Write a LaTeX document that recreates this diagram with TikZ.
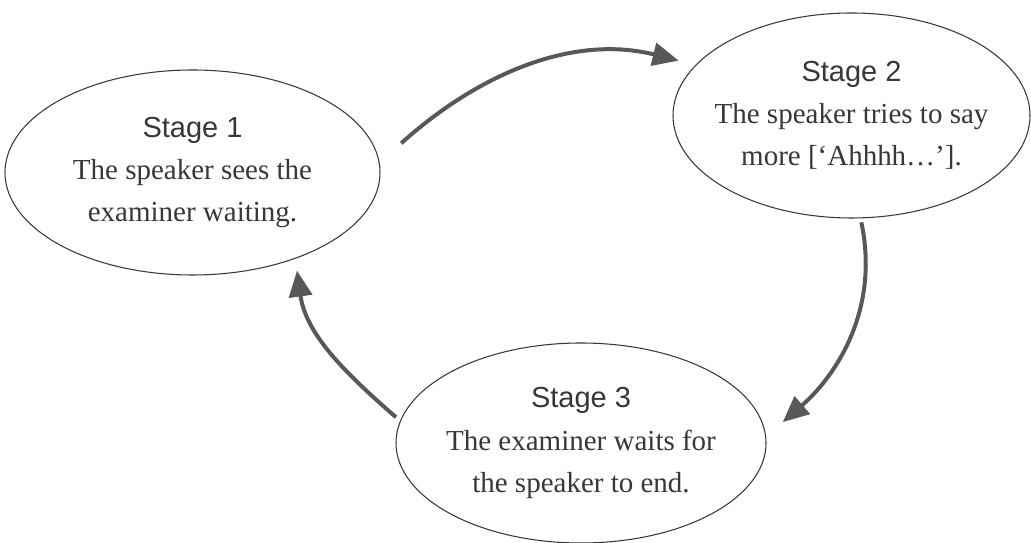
\documentclass[tikz,border=0pt]{standalone}
\usepackage{fontspec}
\setmainfont{Liberation Serif}
\setsansfont{Liberation Sans}
\usetikzlibrary{arrows.meta, shapes.geometric}
\definecolor{inkgray}{RGB}{55,55,55}
\definecolor{arrowgray}{RGB}{88,88,88}

\begin{document}
\begin{tikzpicture}[
	stage/.style = {ellipse, draw = inkgray, line width = 0.6pt, text = inkgray, align = center, inner xsep = -1cm, inner ysep = 0pt, minimum height = 4.1cm, font = \fontsize{16.5}{24}\selectfont},
	flow/.style = {-{Triangle[length = 0.52cm, width = 0.46cm]}, line width = 0.08cm, draw = arrowgray}
	]
	\useasboundingbox (0,0) rectangle (20.62,10.86);

	\node[stage, minimum width = 7.5cm] (s1) at (3.85,7.41) {{\sffamily Stage 1}\\The speaker sees the\\examiner waiting.};
	\node[stage, minimum width = 7.14cm] (s2) at (17.03,8.55) {{\sffamily Stage 2}\\The speaker tries to say\\more [‘Ahhhh…’].};
	\node[stage, minimum width = 7.4cm, minimum height = 4cm] (s3) at (11.62,2.0) {{\sffamily Stage 3}\\The examiner waits for\\the speaker to end.};

	% cycle
	\draw[flow, shorten <= 0.58cm, shorten >= 0.35cm] (s1.3) to[out = 42, in = 166] (s2.162);
	\draw[flow, shorten <= 0.08cm, shorten >= 0.44cm] (s2.-85) to[out = -78, in = 41] (s3.2);
	\draw[flow, shorten <= 0.11cm, shorten >= 0.24cm] (s3.173) to[out = 139, in = -82] (s1.-40);
\end{tikzpicture}
\end{document}
